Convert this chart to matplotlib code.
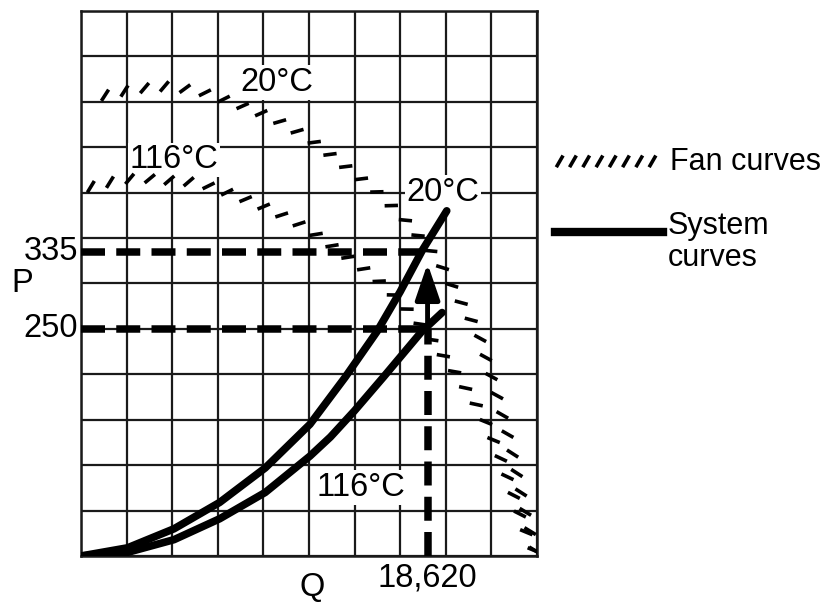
import numpy as np
import matplotlib
matplotlib.use("Agg")
import matplotlib.pyplot as plt
from matplotlib import patheffects
from matplotlib.patches import FancyArrowPatch
from matplotlib.lines import Line2D

plt.rcParams['font.family'] = ['Liberation Sans', 'DejaVu Sans']

# system curves (Q, P)
q_sys_20 = [0, 2500, 5000, 7450, 9900, 12300, 14200, 15900, 17150, 18350, 19650]
p_sys_20 = [0, 9, 30, 59, 97, 145, 197, 247, 291, 337, 380]
q_sys_116 = [0, 2500, 5000, 7450, 9900, 12300, 13400, 14700, 16250, 18300, 19400]
p_sys_116 = [0, 4, 18, 41, 70, 110, 131, 160, 197, 247, 268]

# fan curves
q_fan_20 = [750, 3000, 4800, 6400, 8150, 10300, 12150, 13800, 15550, 17150,
            19200, 20200, 21300, 22250, 23050, 23750, 24400]
p_fan_20 = [502, 512, 515, 510, 498, 481, 460, 434, 406, 375,
            324, 285, 246, 180, 120, 54, 0]
q_fan_116 = [0, 1000, 2250, 3350, 4400, 6400, 8400, 10300, 12200, 14100,
             15700, 16450, 17950, 19150, 20350, 21550, 22350, 23050, 23750, 24400]
p_fan_116 = [401, 406, 412, 414, 412, 409, 395, 379, 359, 331,
             307, 293, 261, 228, 193, 155, 116, 76, 32, 0]

# operating point
q_op = 18620
p_low = 250
p_high = 335

q_max = 24500
p_max = 600
q_step = 2450
p_step = 50

fs = 23.5
fs_leg = 22

fig = plt.figure(figsize=(8.25, 6.1), dpi=100)
ax = fig.add_axes([81/825, 1 - 556/610, 456/825, 545/610])
ax.set_xlim(0, q_max)
ax.set_ylim(0, p_max)
ax.set_xticks(np.arange(0, q_max + 1, q_step))
ax.set_yticks(np.arange(0, p_max + 1, p_step))
ax.tick_params(length=0, labelbottom=False, labelleft=False)
ax.grid(True, color='#1a1a1a', lw=1.6)
for s in ax.spines.values():
    s.set_color('#1a1a1a')
    s.set_linewidth(1.8)
ax.set_axisbelow(True)

# fan curves as slanted tick strokes
fan_fx = [patheffects.TickedStroke(spacing=14, angle=45, length=0.5,
                                   linewidth=2.6, offset=(-1.5, -1))]
ax.plot(q_fan_20, p_fan_20, color='black', path_effects=fan_fx, zorder=3)
ax.plot(q_fan_116, p_fan_116, color='black', path_effects=fan_fx, zorder=3)

# system curves
for q, p in [(q_sys_20, p_sys_20), (q_sys_116, p_sys_116)]:
    ax.plot(q, p, color='black', lw=5.5, solid_capstyle='round',
            solid_joinstyle='round', zorder=4)

# operating point lines
ax.plot([0, q_op], [p_high, p_high], color='black', lw=5.4, dashes=(3.2, 1.5), zorder=3)
ax.plot([0, q_op], [p_low, p_low], color='black', lw=5.4, dashes=(3.2, 1.5), zorder=3)
ax.plot([q_op, q_op], [0, p_low], color='black', lw=5.4, dashes=(3.2, 1.5), zorder=3)
arr = FancyArrowPatch((q_op, 238), (q_op, 322),
                      arrowstyle='-|>,head_length=2.2,head_width=0.75',
                      mutation_scale=10, lw=3.5, color='black',
                      shrinkA=0, shrinkB=0, zorder=5)
ax.add_patch(arr)

box = dict(fc='white', ec='none', pad=1.5)
ax.text(10530, 521, '20°C', fontsize=fs, ha='center', va='center', bbox=box, zorder=2)
ax.text(5000, 436, '116°C', fontsize=fs, ha='center', va='center', bbox=box, zorder=2)
ax.text(19450, 400, '20°C', fontsize=fs, ha='center', va='center', bbox=box, zorder=2)
ax.text(15050, 75, '116°C', fontsize=fs, ha='center', va='center', bbox=box, zorder=2)

ytr = ax.get_yaxis_transform()
xtr = ax.get_xaxis_transform()
ax.text(-0.006, p_high, '335', transform=ytr, fontsize=fs, ha='right', va='center')
ax.text(-0.006, p_low, '250', transform=ytr, fontsize=fs, ha='right', va='center')
ax.text(-0.129, 0.50, 'P', transform=ax.transAxes, fontsize=fs, ha='center', va='center')
ax.text(0.507, -0.057, 'Q', transform=ax.transAxes, fontsize=fs, ha='center', va='center')
ax.text(q_op, -0.04, '18,620', transform=xtr, fontsize=fs, ha='center', va='center')

# legend drawn by hand to the right
leg_fx = [patheffects.TickedStroke(spacing=9.5, angle=60, length=0.75,
                                   linewidth=2.6, offset=(-1, -2))]
fig.add_artist(Line2D([552/825, 658/825], [0.733, 0.733], color='black',
                      path_effects=leg_fx))
fig.text(670/825, 0.735, 'Fan curves', fontsize=fs_leg, ha='left', va='center')
fig.add_artist(Line2D([555/825, 663/825], [0.620, 0.620], color='black', lw=6))
fig.text(668/825, 0.654, 'System\ncurves', fontsize=fs_leg, ha='left', va='top',
         linespacing=1.1)

fig.savefig('out.png', dpi=100)
